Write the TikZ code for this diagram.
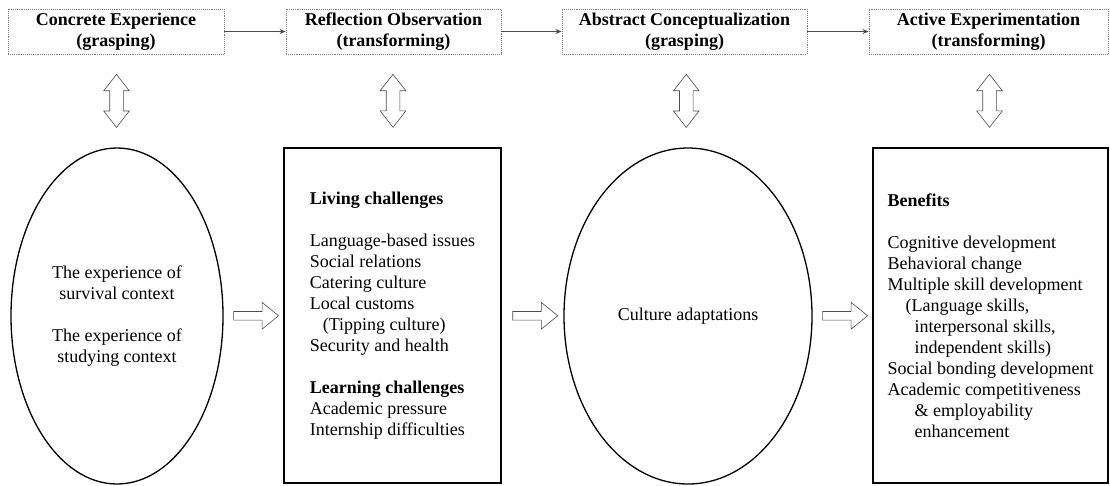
\documentclass[tikz,border=0pt]{standalone}
\usepackage{fontspec}
\setmainfont{Liberation Serif}
\usetikzlibrary{arrows.meta,calc,positioning,shapes.geometric,shapes.arrows}

\tikzset{
  stage/.style={draw=gray, densely dotted, line width=0.9pt, minimum height=45pt,
    align=center, inner sep=0pt, font=\bfseries\fontsize{18}{21}\selectfont},
  oval/.style={ellipse, draw, line width=1.3pt, minimum height=336pt,
    align=center, inner sep=0pt, font=\fontsize{18}{21}\selectfont},
  panel/.style={draw, line width=1.6pt, minimum height=335pt,
    align=left, inner sep=0pt, font=\fontsize{18}{21}\selectfont},
  flow/.style={-{Stealth[length=6pt,width=5pt]}, draw=gray!60!black, line width=1pt},
  fatarrow/.style={single arrow, draw=gray!60!black, line width=0.6pt,
    minimum height=45pt, single arrow head extend=9pt, single arrow tip angle=78,
    inner xsep=0pt, inner ysep=4pt},
  duoarrow/.style={double arrow, draw=gray!60!black, line width=0.6pt, rotate=90,
    minimum height=53pt, double arrow head extend=6pt, double arrow tip angle=76,
    inner xsep=0pt, inner ysep=6.5pt}
}

\begin{document}
\begin{tikzpicture}[x=1pt,y=-1pt]
\useasboundingbox (0,0) rectangle (1110,485);

% the four stages
\node[stage, minimum width=216pt] (t1) at (116,31.5) {Concrete Experience\\(grasping)};
\node[stage, minimum width=215pt] (t2) at (393.5,31.5) {Reflection Observation\\(transforming)};
\node[stage, minimum width=245pt] (t3) at (684.5,31.5) {Abstract Conceptualization\\(grasping)};
\node[stage, minimum width=239pt] (t4) at (988.5,31.5) {Active Experimentation\\(transforming)};

\draw[flow] (t1) -- (t2);
\draw[flow] (t2) -- (t3);
\draw[flow] (t3) -- (t4);

% contents
\node[oval, minimum width=212pt] (e1) at (117,316)
  {The experience of\\survival context\\[21pt]The experience of\\studying context};
\node[panel, minimum width=217pt] (b2) at (392.5,315.5)
  {\textbf{Living challenges}\\[21pt]
   Language-based issues\\
   Social relations\\
   Catering culture\\
   Local customs\\
   \hspace*{13pt}(Tipping culture)\\
   Security and health\\[21pt]
   \textbf{Learning challenges}\\
   Academic pressure\\
   Internship difficulties};
\node[oval, minimum width=248pt] (e3) at (688,316) {Culture adaptations};
\node[panel, minimum width=235pt] (b4) at (990.5,315.5)
  {\textbf{Benefits}\\[21pt]
   Cognitive development\\
   Behavioral change\\
   Multiple skill development\\
   \hspace*{18pt}(Language skills,\\
   \hspace*{27pt}interpersonal skills,\\
   \hspace*{27pt}independent skills)\\
   Social bonding development\\
   Academic competitiveness\\
   \hspace*{27pt}\& employability\\
   \hspace*{27pt}enhancement};

% block arrows
\node[fatarrow] (a1) at ($(e1.east)!0.5!(b2.west)$) {};
\node[fatarrow] (a2) at ($(b2.east)!0.5!(e3.west)$) {};
\node[fatarrow] (a3) at ($(e3.east)!0.5!(b4.west)$) {};

\node[duoarrow] (d1) at ($(t1.south)!0.5!(e1.north)$) {};
\node[duoarrow] (d2) at ($(t2.south)!0.5!(b2.north)$) {};
\node[duoarrow] (d3) at ($(t3.south)!0.5!(e3.north)$) {};
\node[duoarrow] (d4) at ($(t4.south)!0.5!(b4.north)$) {};
\end{tikzpicture}
\end{document}
